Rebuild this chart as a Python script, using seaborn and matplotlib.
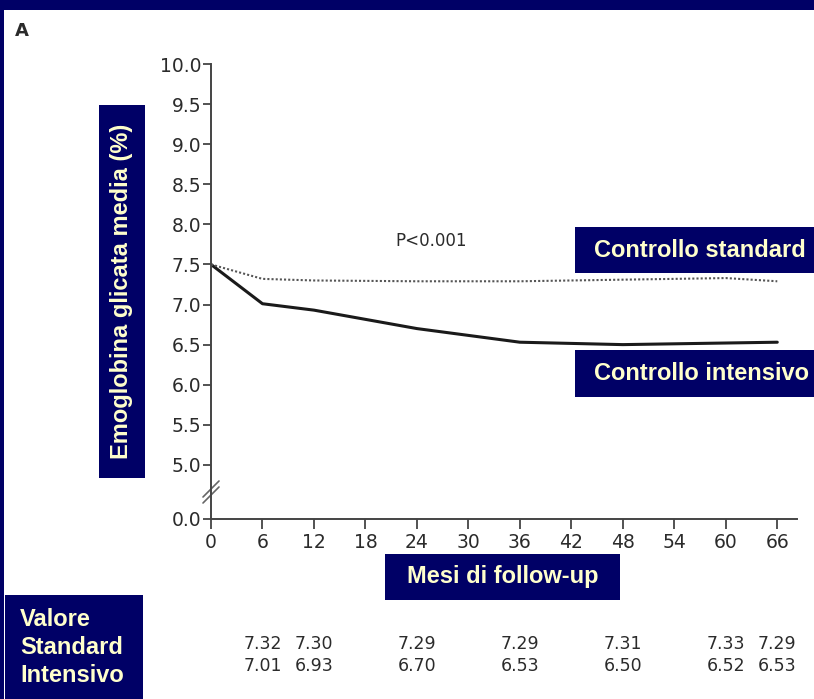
import matplotlib
matplotlib.use("Agg")
import matplotlib.pyplot as plt
import matplotlib.transforms as mtransforms
from matplotlib.patches import Rectangle
import numpy as np
import pandas as pd
import seaborn as sns

# Follow-up months and mean HbA1c per arm
months = [0, 6, 12, 24, 36, 48, 60, 66]
standard = [7.50, 7.32, 7.30, 7.29, 7.29, 7.31, 7.33, 7.29]
intensive = [7.50, 7.01, 6.93, 6.70, 6.53, 6.50, 6.52, 6.53]

# Values printed beneath the axis (months 6 onward)
table_months = [6, 12, 24, 36, 48, 60, 66]
table_standard = ["7.32", "7.30", "7.29", "7.29", "7.31", "7.33", "7.29"]
table_intensive = ["7.01", "6.93", "6.70", "6.53", "6.50", "6.52", "6.53"]

y_ticks = [5.0, 5.5, 6.0, 6.5, 7.0, 7.5, 8.0, 8.5, 9.0, 9.5, 10.0]
x_ticks = [0, 6, 12, 18, 24, 30, 36, 42, 48, 54, 60, 66]

NAVY = "#000066"
CREAM = "#FFFFCC"
INK = "#2b2b2b"

sns.set_theme(style="white")
plt.rcParams["font.family"] = ["DejaVu Sans"]

W, H = 814, 699
fig = plt.figure(figsize=(W / 100, H / 100), dpi=100, facecolor=NAVY)


def fx(x):
    return x / W


def fy(y):
    return 1 - y / H


# white slide panel
fig.patches.append(Rectangle((fx(4), 0), 1 - fx(4), fy(10), transform=fig.transFigure,
                             facecolor="white", edgecolor="none", zorder=-10))

ax = fig.add_axes([fx(211), fy(519), fx(797) - fx(211), fy(64) - fy(519)])
ax.set_facecolor("none")
ax.set_zorder(1)

df = pd.DataFrame({
    "mese": months * 2,
    "hba1c": standard + intensive,
    "braccio": ["Standard"] * len(months) + ["Intensivo"] * len(months),
})
sns.lineplot(data=df[df.braccio == "Intensivo"], x="mese", y="hba1c", ax=ax,
             color="#1a1a1a", lw=2.2, legend=False)
sns.lineplot(data=df[df.braccio == "Standard"], x="mese", y="hba1c", ax=ax,
             color="#555555", lw=1.5, linestyle=(0, (1, 1)), legend=False)

# broken y axis: "0.0" sits just below 5.0
zero_pos = 5.0 - 54 / 80
ax.set_ylim(zero_pos, 10.0)
ax.set_xlim(0, 68.3)
ax.set_yticks([zero_pos] + y_ticks, ["0.0"] + [f"{v:.1f}" for v in y_ticks])
ax.set_xticks(x_ticks, [str(v) for v in x_ticks])
ax.set_xlabel("")
ax.set_ylabel("")
for s in ["top", "right"]:
    ax.spines[s].set_visible(False)
for s in ["left", "bottom"]:
    ax.spines[s].set_color("#444444")
    ax.spines[s].set_linewidth(1.4)
ax.tick_params(axis="both", which="both", direction="out", length=6, width=1.3,
               color="#444444", labelcolor=INK, labelsize=13.5)
ax.tick_params(axis="y", pad=1)
ax.tick_params(axis="x", pad=3, length=7)
ax.tick_params(left=True, bottom=True)

# break marks on the y axis
for dy in (0, 6):
    ax.plot([fx(203), fx(219)], [fy(503 - dy), fy(487 - dy)], transform=fig.transFigure,
            color="#666666", lw=1.2, clip_on=False)

ax.text(fx(395), fy(241), "P<0.001", transform=fig.transFigure, fontsize=12,
        color=INK, ha="left", va="center")
fig.text(fx(15), fy(31), "A", fontsize=13, fontweight="bold", color=INK,
         ha="left", va="center")


def label_box(x0, y0, x1, y1, text, rotation=0, ha="center", tx=None):
    fig.patches.append(Rectangle((fx(x0), fy(y1)), fx(x1) - fx(x0), fy(y0) - fy(y1),
                                 transform=fig.transFigure, facecolor=NAVY,
                                 edgecolor="none", zorder=2))
    if tx is None:
        tx = (x0 + x1) / 2
    fig.text(fx(tx), fy((y0 + y1) / 2), text, rotation=rotation, ha=ha, va="center",
             fontsize=17, fontweight="bold", color=CREAM,
             family=["Liberation Sans", "DejaVu Sans"], zorder=3)


label_box(99, 105, 145, 478, "Emoglobina glicata media (%)", rotation=90)
label_box(575, 227, 814, 273, "Controllo standard", ha="left", tx=594)
label_box(575, 350, 814, 397, "Controllo intensivo", ha="left", tx=594)
label_box(385, 554, 620, 600, "Mesi di follow-up")

# lower-left legend box for the value rows
fig.patches.append(Rectangle((fx(5), 0), fx(143) - fx(5), fy(595),
                             transform=fig.transFigure, facecolor=NAVY,
                             edgecolor="none", zorder=2))
for yy, t in [(620, "Valore"), (648, "Standard"), (676, "Intensivo")]:
    fig.text(fx(20), fy(yy), t, ha="left", va="center", fontsize=17,
             fontweight="bold", color=CREAM,
             family=["Liberation Sans", "DejaVu Sans"], zorder=3)

# value rows aligned with the month axis
blend = mtransforms.blended_transform_factory(ax.transData, fig.transFigure)
for m, s_val, i_val in zip(table_months, table_standard, table_intensive):
    ax.text(m, fy(644), s_val, transform=blend, ha="center", va="center",
            fontsize=12.5, color=INK, clip_on=False)
    ax.text(m, fy(666), i_val, transform=blend, ha="center", va="center",
            fontsize=12.5, color=INK, clip_on=False)

fig.savefig("out.png", dpi=100, facecolor=NAVY)
